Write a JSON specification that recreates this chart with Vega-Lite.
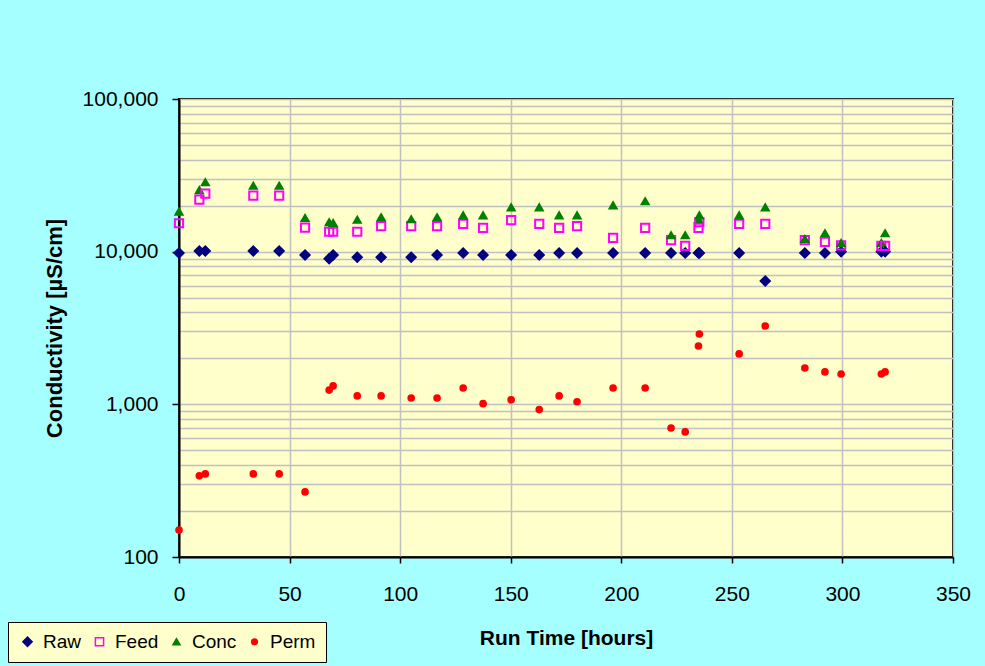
{
  "$schema": "https://vega.github.io/schema/vega-lite/v6.json",
  "autosize": {"type": "none"},
  "padding": {"left": 179, "top": 99, "right": 32, "bottom": 109},
  "width": 774,
  "height": 458,
  "background": "#a6ffff",
  "config": {
    "font": "Liberation Sans",
    "view": {"fill": "#FFFFCC", "stroke": "black", "strokeWidth": 2}
  },
  "data": {
    "values": [
      {"t": 0, "Raw": 9800, "Feed": 15350, "Conc": 18300, "Perm": 150},
      {"t": 9.2, "Raw": 10100, "Feed": 21900, "Conc": 25300, "Perm": 340},
      {"t": 11.9, "Raw": 10100, "Feed": 24000, "Conc": 28500, "Perm": 350},
      {"t": 33.6, "Raw": 10100, "Feed": 23300, "Conc": 27000, "Perm": 350},
      {"t": 45.3, "Raw": 10100, "Feed": 23300, "Conc": 27000, "Perm": 350},
      {"t": 57.0, "Raw": 9500, "Feed": 14350, "Conc": 16600, "Perm": 267},
      {"t": 67.9, "Raw": 9000, "Feed": 13500, "Conc": 15600, "Perm": 1240},
      {"t": 69.7, "Raw": 9500, "Feed": 13500, "Conc": 15400, "Perm": 1320},
      {"t": 80.6, "Raw": 9200, "Feed": 13500, "Conc": 16200, "Perm": 1135},
      {"t": 91.4, "Raw": 9200, "Feed": 14700, "Conc": 16800, "Perm": 1135},
      {"t": 105.0, "Raw": 9200, "Feed": 14700, "Conc": 16300, "Perm": 1100},
      {"t": 116.7, "Raw": 9500, "Feed": 14700, "Conc": 16800, "Perm": 1100},
      {"t": 128.5, "Raw": 9800, "Feed": 15200, "Conc": 17300, "Perm": 1280},
      {"t": 137.5, "Raw": 9500, "Feed": 14300, "Conc": 17300, "Perm": 1010},
      {"t": 150.2, "Raw": 9500, "Feed": 16100, "Conc": 19500, "Perm": 1070},
      {"t": 162.9, "Raw": 9500, "Feed": 15200, "Conc": 19500, "Perm": 925},
      {"t": 171.9, "Raw": 9800, "Feed": 14300, "Conc": 17300, "Perm": 1135},
      {"t": 180.0, "Raw": 9800, "Feed": 14700, "Conc": 17300, "Perm": 1040},
      {"t": 196.3, "Raw": 9800, "Feed": 12300, "Conc": 20100, "Perm": 1280},
      {"t": 210.8, "Raw": 9800, "Feed": 14300, "Conc": 21400, "Perm": 1280},
      {"t": 222.5, "Raw": 9800, "Feed": 11900, "Conc": 12800, "Perm": 700},
      {"t": 228.9, "Raw": 9800, "Feed": 10900, "Conc": 12800, "Perm": 660},
      {"t": 234.9, "Raw": 9800, "Feed": 14300, "Conc": 16300, "Perm": 2410},
      {"t": 235.3, "Raw": 9800, "Feed": 15600, "Conc": 17300, "Perm": 2890},
      {"t": 253.3, "Raw": 9800, "Feed": 15200, "Conc": 17300, "Perm": 2140},
      {"t": 265.1, "Raw": 6430, "Feed": 15200, "Conc": 19500, "Perm": 3260},
      {"t": 283.0, "Raw": 9800, "Feed": 11900, "Conc": 12100, "Perm": 1730},
      {"t": 292.1, "Raw": 9800, "Feed": 11600, "Conc": 13200, "Perm": 1630},
      {"t": 299.4, "Raw": 10000, "Feed": 11000, "Conc": 11400, "Perm": 1580},
      {"t": 317.6, "Raw": 10000, "Feed": 10900, "Conc": 11400, "Perm": 1580},
      {"t": 319.3, "Raw": 10000, "Feed": 10900, "Conc": 13200, "Perm": 1630}
    ]
  },
  "transform": [
    {"fold": ["Raw", "Feed", "Conc", "Perm"], "as": ["series", "value"]}
  ],
  "mark": {"type": "point", "opacity": 1, "strokeWidth": 2, "strokeJoin": "miter"},
  "encoding": {
    "x": {
      "field": "t",
      "type": "quantitative",
      "scale": {"domain": [0, 350], "nice": false, "zero": false},
      "axis": {
        "title": "Run Time [hours]",
        "values": [0, 50, 100, 150, 200, 250, 300, 350],
        "grid": true,
        "gridColor": "#C0C0C0",
        "gridWidth": 1.5,
        "domainColor": "black",
        "domainWidth": 2,
        "tickColor": "black",
        "tickWidth": 1.5,
        "tickSize": 6,
        "labelFontSize": 21,
        "labelColor": "black",
        "labelPadding": 20,
        "labelFlush": false,
        "titleFontSize": 21,
        "titleFontWeight": "bold",
        "titleColor": "black",
        "titlePadding": 23
      }
    },
    "y": {
      "field": "value",
      "type": "quantitative",
      "scale": {"type": "log", "domain": [100, 100000], "nice": false},
      "axis": {
        "title": "Conductivity [µS/cm]",
        "values": [100, 200, 300, 400, 500, 600, 700, 800, 900, 1000, 2000, 3000, 4000, 5000, 6000, 7000, 8000, 9000, 10000, 20000, 30000, 40000, 50000, 60000, 70000, 80000, 90000, 100000],
        "labelExpr": "indexof([100, 1000, 10000, 100000], datum.value) >= 0 ? format(datum.value, ',') : ''",
        "labelOverlap": false,
        "labelFlush": false,
        "grid": true,
        "gridColor": "#C0C0C0",
        "gridWidth": 1.5,
        "domainColor": "black",
        "domainWidth": 2,
        "tickColor": {"condition": {"test": "indexof([100, 1000, 10000, 100000], datum.value) >= 0", "value": "black"}, "value": "transparent"},
        "tickWidth": 1.5,
        "tickSize": 7,
        "labelFontSize": 21,
        "labelColor": "black",
        "labelPadding": 14,
        "titleFontSize": 22,
        "titleFontWeight": "bold",
        "titleColor": "black",
        "titlePadding": 16
      }
    },
    "shape": {
      "field": "series",
      "type": "nominal",
      "scale": {"domain": ["Raw", "Feed", "Conc", "Perm"], "range": ["diamond", "square", "triangle-up", "circle"]},
      "legend": {"title": null, "orient": "none", "legendX": -171, "legendY": 523, "direction": "horizontal", "fillColor": "#FFFFCC", "strokeColor": "black", "padding": 10, "labelFontSize": 19, "labelColor": "black", "columnPadding": 8, "labelOffset": 6, "encode": {"legend": {"update": {"strokeWidth": {"value": 2}}}}}
    },
    "fill": {
      "field": "series",
      "type": "nominal",
      "scale": {"domain": ["Raw", "Feed", "Conc", "Perm"], "range": ["#000080", "transparent", "#008000", "#FF0000"]},
      "legend": {"title": null, "orient": "none", "legendX": -171, "legendY": 523, "direction": "horizontal", "fillColor": "#FFFFCC", "strokeColor": "black", "padding": 10, "labelFontSize": 19, "labelColor": "black", "columnPadding": 8, "labelOffset": 6, "encode": {"legend": {"update": {"strokeWidth": {"value": 2}}}}}
    },
    "stroke": {
      "field": "series",
      "type": "nominal",
      "scale": {"domain": ["Raw", "Feed", "Conc", "Perm"], "range": ["#000080", "#FF00FF", "#008000", "#FF0000"]},
      "legend": {"title": null, "orient": "none", "legendX": -171, "legendY": 523, "direction": "horizontal", "fillColor": "#FFFFCC", "strokeColor": "black", "padding": 10, "labelFontSize": 19, "labelColor": "black", "columnPadding": 8, "labelOffset": 6, "encode": {"legend": {"update": {"strokeWidth": {"value": 2}}}}}
    },
    "size": {
      "field": "series",
      "type": "nominal",
      "scale": {"domain": ["Raw", "Feed", "Conc", "Perm"], "range": [85, 32, 100, 55]},
      "legend": {"title": null, "orient": "none", "legendX": -171, "legendY": 523, "direction": "horizontal", "fillColor": "#FFFFCC", "strokeColor": "black", "padding": 10, "labelFontSize": 19, "labelColor": "black", "columnPadding": 8, "labelOffset": 6, "encode": {"legend": {"update": {"strokeWidth": {"value": 2}}}}}
    }
  }
}
